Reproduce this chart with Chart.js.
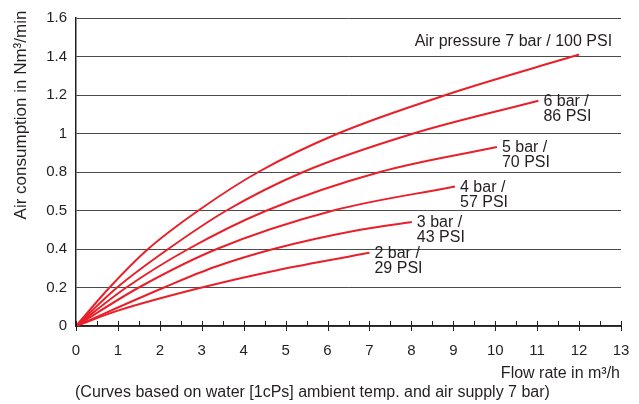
<!DOCTYPE html>
<html>
<head>
<meta charset="utf-8">
<script src="https://cdn.jsdelivr.net/npm/chart.js@4.4.1/dist/chart.umd.min.js"></script>
<style>
  html, body { margin: 0; padding: 0; background: #fff; }
</style>
</head>
<body>
<canvas id="chart" width="639" height="404"></canvas>
<script>
// y tick labels as printed on the original (note the "0.5" at the 0.6 line)
const yTickLabels = ['0', '0.2', '0.4', '0.5', '0.8', '1', '1.2', '1.4', '1.6'];

// flow rate (m3/h) -> air consumption (Nm3/min)
const bar7 = [[0, 0], [0.8, 0.2], [1.72, 0.4], [2.92, 0.6], [4.35, 0.8], [6.25, 1.0], [8.82, 1.2], [12, 1.41]];
const bar6 = [[0, 0], [0.98, 0.2], [2.2, 0.4], [3.59, 0.6], [5.42, 0.8], [8.05, 1.0], [11.03, 1.17]];
const bar5 = [[0, 0], [1.2, 0.2], [2.68, 0.4], [4.55, 0.6], [7.25, 0.8], [10.04, 0.93]];
const bar4 = [[0, 0], [1.5, 0.2], [3.36, 0.4], [6.14, 0.6], [9.04, 0.725]];
const bar3 = [[0, 0], [2.1, 0.2], [3.29, 0.305], [4.71, 0.4], [6.78, 0.5], [8.01, 0.54]];
const bar2 = [[0, 0], [1.0, 0.08], [3.0, 0.2], [4.8, 0.29], [7.0, 0.38]];

const curveLabels = [
    ['Air pressure 7 bar / 100 PSI'],
    ['6 bar /', '86 PSI'],
    ['5 bar /', '70 PSI'],
    ['4 bar /', '57 PSI'],
    ['3 bar /', '43 PSI'],
    ['2 bar /', '29 PSI']
];

const yTitle = 'Air consumption in Nm\u00B3/min';
const xTitle = 'Flow rate in m\u00B3/h';
const footNote = '(Curves based on water [1cPs] ambient temp. and air supply 7 bar)';

const FONT = "'Liberation Sans', Arial, sans-serif";
const INK = '#231f20';
const RED = '#e8202a';

const allSeries = [bar7, bar6, bar5, bar4, bar3, bar2];

const textPlugin = {
    id: 'texts',
    afterDraw: (chart) => {
        const ctx = chart.ctx;
        const xs = chart.scales.x;
        const ys = chart.scales.y;
        const area = chart.chartArea;

        ctx.save();
        // x-axis tick marks: integers cross the axis, halves sit above it
        ctx.strokeStyle = INK;
        ctx.lineWidth = 1;
        for (let v = 0; v <= 13; v += 0.5) {
            const px = Math.round(xs.getPixelForValue(v)) + 0.5;
            const isInt = Number.isInteger(v);
            ctx.beginPath();
            ctx.moveTo(px, area.bottom - 5);
            ctx.lineTo(px, area.bottom + (isInt ? 5 : 0));
            ctx.stroke();
        }

        ctx.fillStyle = INK;
        ctx.font = '16px ' + FONT;
        ctx.textBaseline = 'middle';

        // curve labels, anchored at each curve's last point
        allSeries.forEach((s, i) => {
            const last = s[s.length - 1];
            const px = xs.getPixelForValue(last[0]);
            const py = ys.getPixelForValue(last[1]);
            const lines = curveLabels[i];
            if (i === 0) {
                ctx.textAlign = 'right';
                ctx.fillText(lines[0], px + 33, py - 13);
            } else {
                ctx.textAlign = 'left';
                lines.forEach((t, k) => ctx.fillText(t, px + 5, py + 1 + k * 15));
            }
        });

        // axis titles + footnote
        ctx.textAlign = 'right';
        ctx.fillText(xTitle, area.right - 1, 374);
        ctx.textAlign = 'left';
        ctx.fillText(footNote, 75, 393);

        ctx.font = '17px ' + FONT;
        ctx.translate(21, 115);
        ctx.rotate(-Math.PI / 2);
        ctx.textAlign = 'center';
        ctx.fillText(yTitle, 0, 0);
        ctx.restore();
    }
};

const datasets = allSeries.map((s, i) => ({
    label: curveLabels[i].join(' '),
    data: s.map(p => ({ x: p[0], y: p[1] })),
    borderColor: RED,
    borderWidth: 2,
    pointRadius: 0,
    fill: false,
    cubicInterpolationMode: 'monotone'
}));

new Chart(document.getElementById('chart').getContext('2d'), {
    type: 'line',
    data: { datasets },
    plugins: [textPlugin],
    options: {
        responsive: false,
        animation: false,
        parsing: false,
        layout: { padding: { top: 17, right: 18, left: 0, bottom: 0 } },
        plugins: {
            legend: { display: false },
            tooltip: { enabled: false }
        },
        scales: {
            x: {
                type: 'linear',
                min: 0,
                max: 13,
                afterFit: s => { s.height = 78; },
                grid: { display: false },
                border: { display: true, color: INK, width: 1.5 },
                ticks: {
                    stepSize: 1,
                    color: INK,
                    padding: 8,
                    maxRotation: 0,
                    font: { family: FONT, size: 15 }
                }
            },
            y: {
                min: 0,
                max: 1.6,
                afterFit: s => { s.width = 76; },
                grid: { color: '#4a4a4a', drawTicks: false },
                border: { display: true, color: INK, width: 1.5 },
                ticks: {
                    stepSize: 0.2,
                    color: INK,
                    padding: 9,
                    font: { family: FONT, size: 15 },
                    callback: (v, i) => yTickLabels[i]
                }
            }
        }
    }
});
</script>
</body>
</html>
